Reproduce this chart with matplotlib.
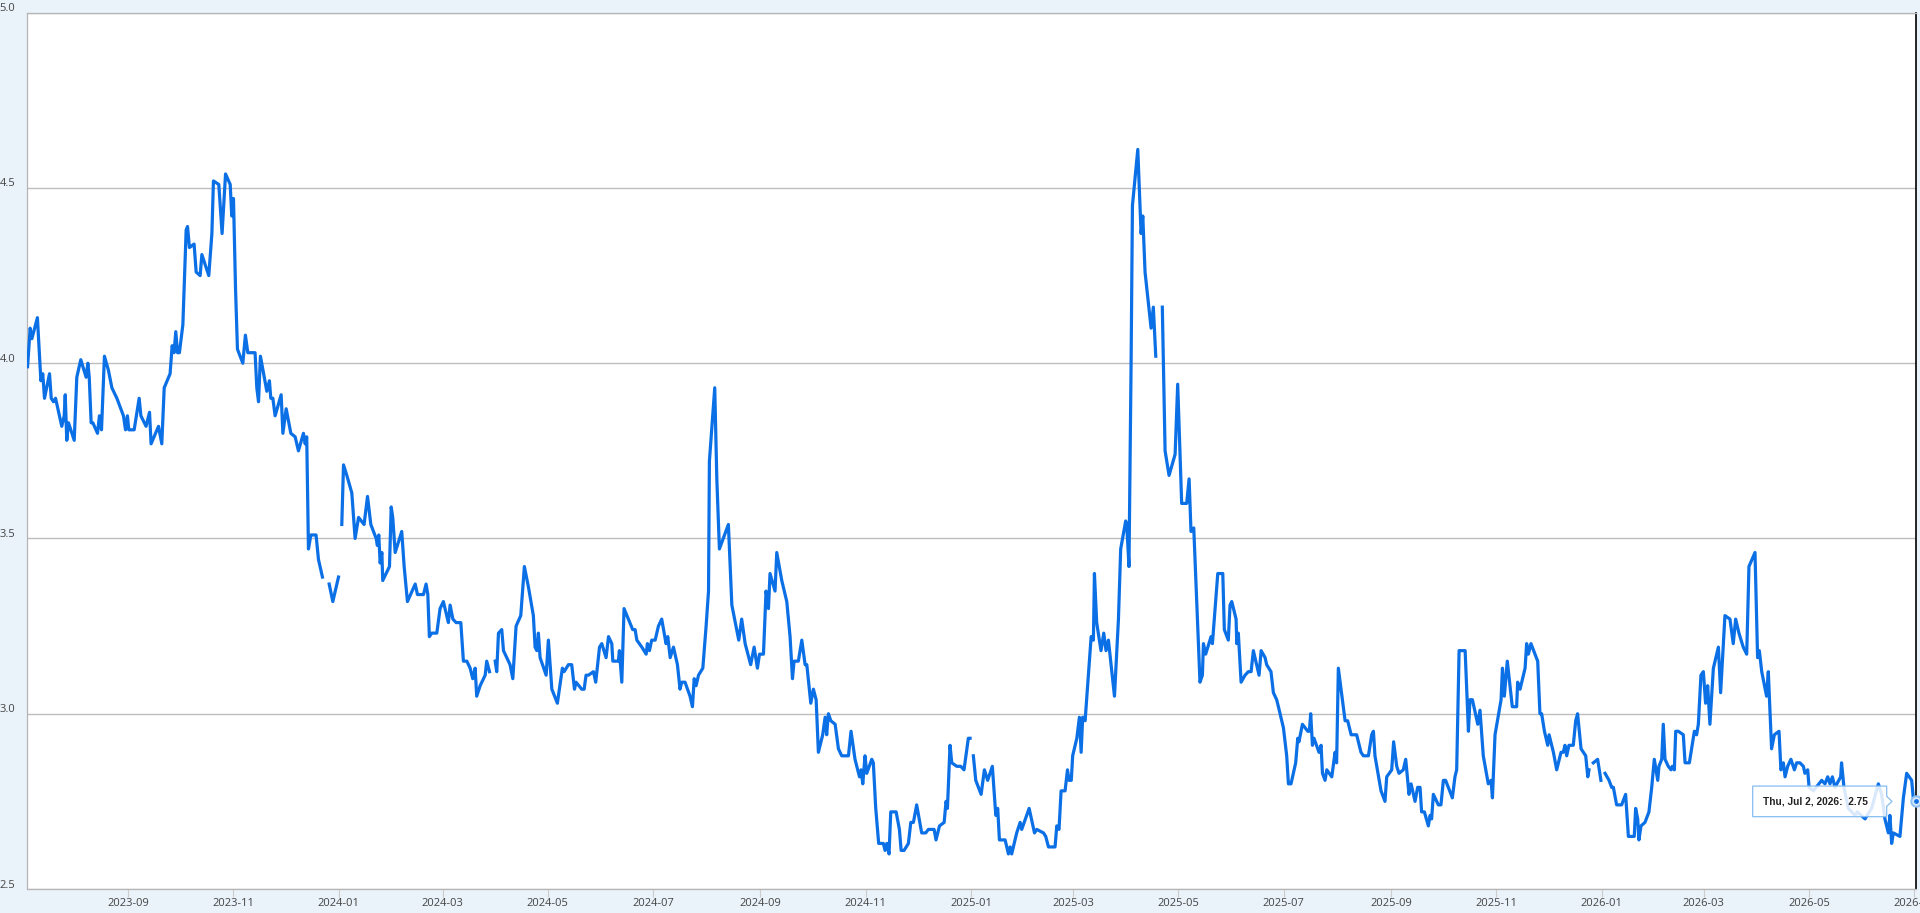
import numpy as np
import pandas as pd
import matplotlib
matplotlib.use("Agg")
import matplotlib.pyplot as plt
import matplotlib.dates as mdates
import matplotlib.transforms as mtransforms
from matplotlib.patches import Polygon

plt.rcParams['font.family'] = ['Open Sans', 'DejaVu Sans']

nan = np.nan
START = pd.Timestamp('2023-07-03')

# ---- data: (days since START, value); nan marks gaps in the series ----
days_2023h2 = [1.8, 3.3, 4.3, 7.5, 9.5, 10.6, 11.6, 14.5, 15.5, 16.8, 18.0, 21.6, 23.0, 23.6, 24.5, 25.5,
               28.8, 30.3, 32.6, 35.7, 36.7, 37.5, 38.6, 39.6, 42.3, 43.4, 44.6, 46.3, 48.6, 50.6, 53.5,
               57.3, 58.5, 59.6, 60.4, 63.5, 66.4, 67.4, 70.4, 72.4, 73.3, 77.6, 79.5, 80.9, 84.3, 85.5,
               86.6, 87.6, 88.6, 89.7, 91.7, 93.6, 94.4, 95.5, 98.2, 99.4, 101.7, 102.7, 106.7, 108.5,
               109.4, 112.5, 114.4, 116.4, 119.1, 120.0, 121.0, 122.2, 123.3, 126.4, 127.9, 129.3, 133.5,
               134.5, 135.5, 136.6, 140.3, 141.8, 142.6, 143.8, 145.1, 148.6, 149.6, 151.5, 154.2, 156.7,
               158.6, 161.5, 162.5, 163.4, 164.4, 165.8, 168.8, 170.2, 172.5, 174.5, 176.4, 178.5, 181.8,
               182.8]
vals_2023h2 = [3.99, 4.10, 4.07, 4.13, 3.95, 3.97, 3.90, 3.97, 3.90, 3.89, 3.90, 3.82, 3.85, 3.91, 3.78, 3.83,
               3.78, 3.96, 4.01, 3.96, 4.00, 3.96, 3.83, 3.83, 3.80, 3.85, 3.81, 4.02, 3.98, 3.93, 3.90,
               3.85, 3.81, 3.85, 3.81, 3.81, 3.90, 3.85, 3.82, 3.86, 3.77, 3.82, 3.77, 3.93, 3.97, 4.05,
               4.03, 4.09, 4.03, 4.03, 4.11, 4.38, 4.39, 4.33, 4.34, 4.26, 4.25, 4.31, 4.25, 4.37,
               4.52, 4.51, 4.37, 4.54, 4.51, 4.42, 4.47, 4.21, 4.04, 4.00, 4.08, 4.03, 4.03,
               3.93, 3.89, 4.02, 3.92, 3.95, 3.90, 3.90, 3.85, 3.91, 3.80, 3.87, 3.80, 3.79,
               3.75, 3.80, 3.77, 3.79, 3.47, 3.51, 3.51, 3.44, 3.39, nan, 3.37, 3.32, 3.39,
               nan]

days_2024h1 = [183.7, 184.7, 186.6, 189.5, 191.4, 193.4, 196.6, 198.6, 200.5, 203.6, 204.3, 205.1, 205.9,
               206.9, 207.4, 211.3, 212.3, 213.2, 214.6, 218.4, 219.8, 221.7, 226.2, 227.5, 231.0, 232.5,
               233.5, 234.4, 235.8, 238.7, 240.6, 242.5, 245.4, 246.4, 248.0, 249.9, 252.6, 254.1, 256.1,
               258.0, 259.5, 260.9, 261.8, 263.8, 266.7, 267.6, 269.2, 270.8, 272.5, 273.4, 274.4, 276.3,
               277.3, 281.1, 282.7, 284.6, 287.3, 289.4, 291.8, 294.6, 295.6, 296.6, 297.5, 298.5, 302.0,
               303.3, 305.3, 308.5, 311.4, 312.4, 314.9, 316.8, 318.4, 319.3, 322.6, 324.0, 325.1, 326.5,
               329.4, 330.7, 332.9, 334.2, 336.7, 338.1, 340.0, 340.6, 343.8, 344.4, 345.8, 347.1, 349.6,
               352.1, 353.5, 354.5, 357.4, 359.9, 360.6, 361.8, 363.1, 365.1]
vals_2024h1 = [3.54, 3.71, 3.68, 3.63, 3.50, 3.56, 3.54, 3.62, 3.54, 3.50, 3.48, 3.51, 3.43,
               3.46, 3.38, 3.42, 3.59, 3.56, 3.46, 3.52, 3.42, 3.32, 3.37, 3.34, 3.34, 3.37,
               3.34, 3.22, 3.23, 3.23, 3.30, 3.32, 3.26, 3.31, 3.27, 3.26, 3.26, 3.15, 3.15,
               3.13, 3.10, 3.13, 3.05, 3.08, 3.11, 3.15, 3.12, nan, 3.15, 3.12, 3.23, 3.24,
               3.18, 3.14, 3.10, 3.25, 3.28, 3.42, 3.36, 3.28, 3.19, 3.18, 3.23, 3.16, 3.11,
               3.21, 3.07, 3.03, 3.13, 3.12, 3.14, 3.14, 3.07, 3.09, 3.07, 3.07, 3.11, 3.11,
               3.12, 3.09, 3.19, 3.20, 3.16, 3.22, 3.20, 3.15, 3.15, 3.18, 3.09, 3.30, 3.27,
               3.24, 3.24, 3.21, 3.19, 3.17, 3.20, 3.18, 3.21, 3.21]

days_2024h2 = [367.0, 368.9, 371.4, 372.4, 373.8, 375.7, 378.0, 379.5, 380.5, 382.4, 385.3, 386.7, 387.7,
               388.8, 390.2, 392.7, 394.6, 396.0, 396.5, 399.6, 400.8, 402.3, 407.5, 409.5, 412.3, 413.5,
               415.2, 417.2, 420.4, 422.4, 424.3, 425.5, 427.8, 429.3, 430.7, 431.6, 434.5, 435.5, 438.4,
               441.3, 443.2, 444.6, 445.5, 448.0, 450.0, 451.9, 452.9, 455.2, 456.7, 458.3, 459.6, 462.1,
               463.5, 464.4, 465.4, 466.8, 469.3, 471.2, 473.1, 477.0, 478.5, 480.8, 483.4, 484.3, 485.3,
               486.6, 487.6, 490.5, 491.4, 492.8, 494.5, 497.2, 498.2, 499.2, 500.5, 501.5, 504.6, 506.5,
               507.5, 509.2, 511.7, 513.1, 514.6, 516.5, 519.4, 521.7, 523.3, 526.6, 527.7, 529.7, 532.4,
               533.5, 534.3, 535.8, 536.8, 539.7, 542.0, 543.9, 546.4, 547.4, 548.4]
vals_2024h2 = [3.25, 3.27, 3.20, 3.22, 3.16, 3.19, 3.14, 3.07, 3.09, 3.09, 3.05, 3.02, 3.10,
               3.08, 3.11, 3.13, 3.25, 3.35, 3.72, 3.93, 3.67, 3.47, 3.54, 3.31, 3.24, 3.21,
               3.27, 3.20, 3.14, 3.19, 3.13, 3.17, 3.17, 3.35, 3.30, 3.40, 3.35, 3.46, 3.38,
               3.32, 3.22, 3.10, 3.15, 3.15, 3.21, 3.14, 3.14, 3.03, 3.07, 3.04, 2.89, 2.94,
               2.99, 2.94, 3.00, 2.98, 2.97, 2.90, 2.88, 2.88, 2.95, 2.87, 2.82, 2.84, 2.80,
               2.88, 2.83, 2.87, 2.86, 2.73, 2.63, 2.63, 2.61, 2.63, 2.60, 2.72, 2.72, 2.67,
               2.61, 2.61, 2.63, 2.69, 2.69, 2.74, 2.66, 2.66, 2.67, 2.67, 2.64, 2.68, 2.69,
               2.75, 2.73, 2.91, 2.86, 2.85, 2.85, 2.84, 2.93, 2.93, nan]

days_2025h1 = [549.3, 550.7, 553.8, 555.7, 557.6, 560.3, 562.3, 563.4, 564.4, 567.7, 569.6, 570.6, 571.5,
               574.4, 576.4, 577.3, 581.6, 584.7, 586.0, 589.9, 591.2, 592.8, 596.6, 597.6, 598.9, 600.1,
               602.4, 603.8, 604.7, 606.0, 606.8, 609.2, 610.7, 611.7, 612.6, 614.0, 617.5, 618.8, 619.4,
               620.7, 623.2, 624.8, 626.1, 627.5, 631.0, 633.3, 634.6, 637.5, 638.1, 639.4, 640.6, 641.4,
               644.5, 646.4, 647.4, 648.7, 652.2, 653.5, 654.9, 656.8, 658.7, 660.3, 662.6, 666.1, 667.6,
               669.9, 672.8, 674.2, 675.3, 676.9, 680.5, 681.9, 682.5, 683.8, 686.9, 687.7, 690.8, 693.7,
               694.6, 696.9, 697.9, 698.9, 701.4, 701.8, 702.7, 704.3, 706.6, 708.5, 710.1, 711.4, 714.7,
               715.9, 718.2, 719.1, 721.6, 723.0, 724.9, 725.9, 728.8, 730.7]
vals_2025h1 = [2.88, 2.81, 2.77, 2.84, 2.81, 2.85, 2.71, 2.73, 2.64, 2.64, 2.60, 2.62, 2.60,
               2.66, 2.69, 2.67, 2.73, 2.66, 2.67, 2.66, 2.65, 2.62, 2.62, 2.68, 2.67, 2.78,
               2.78, 2.84, 2.81, 2.81, 2.88, 2.93, 2.99, 2.89, 2.99, 2.98, 3.22, 3.21, 3.40,
               3.26, 3.18, 3.23, 3.18, 3.21, 3.05, 3.27, 3.47, 3.55, 3.54, 3.42, 3.99, 4.45,
               4.61, 4.37, 4.42, 4.26, 4.10, 4.16, 4.02, nan, 4.16, 3.75, 3.68, 3.74, 3.94,
               3.60, 3.60, 3.67, 3.52, 3.53, 3.09, 3.11, 3.20, 3.17, 3.22, 3.20, 3.40, 3.40,
               3.24, 3.21, 3.31, 3.32, 3.27, 3.20, 3.23, 3.09, 3.11, 3.12, 3.12, 3.18, 3.11,
               3.18, 3.16, 3.14, 3.12, 3.06, 3.04, 3.02, 2.96, 2.88]

days_2025h2 = [731.7, 733.2, 735.9, 737.1, 737.8, 739.8, 742.9, 743.8, 744.6, 745.6, 746.5, 749.4, 750.6,
               751.4, 752.9, 753.9, 756.8, 758.7, 759.6, 760.6, 764.5, 766.0, 768.0, 771.2, 773.7, 775.1,
               778.0, 779.9, 780.9, 781.8, 785.3, 787.6, 788.6, 791.5, 792.6, 794.4, 795.7, 798.2, 799.6,
               801.5, 802.7, 805.0, 806.5, 807.9, 808.8, 810.4, 812.7, 813.7, 814.6, 815.6, 818.5, 820.0,
               821.4, 822.7, 826.6, 828.1, 829.1, 830.5, 834.0, 835.9, 836.8, 838.2, 841.3, 842.6, 844.5,
               847.4, 849.0, 849.8, 851.3, 854.8, 855.6, 856.7, 858.4, 861.3, 863.8, 864.4, 865.8, 868.7,
               869.6, 870.6, 872.1, 876.0, 877.3, 878.3, 879.9, 881.8, 882.6, 885.1, 887.0, 889.5, 890.8,
               891.8, 892.8, 894.1, 896.6, 898.0, 899.1, 901.1, 903.8, 905.0, 905.7, 907.0, 908.2, 910.7,
               912.6, 913.8]
vals_2025h2 = [2.80, 2.80, 2.86, 2.93, 2.92, 2.97, 2.95, 2.95, 3.00, 2.91, 2.93, 2.89, 2.91,
               2.83, 2.81, 2.84, 2.82, 2.89, 2.86, 3.13, 2.98, 2.98, 2.94, 2.94, 2.89, 2.88,
               2.88, 2.94, 2.95, 2.88, 2.78, 2.75, 2.82, 2.84, 2.92, 2.85, 2.83, 2.84, 2.87,
               2.77, 2.80, 2.75, 2.79, 2.79, 2.72, 2.72, 2.68, 2.71, 2.70, 2.77, 2.74, 2.74,
               2.81, 2.81, 2.76, 2.82, 2.84, 3.18, 3.18, 2.95, 3.04, 3.04, 2.97, 3.01, 2.88,
               2.80, 2.81, 2.76, 2.94, 3.04, 3.13, 3.05, 3.15, 3.02, 3.02, 3.09, 3.07, 3.13,
               3.20, 3.17, 3.20, 3.15, 3.00, 3.00, 2.95, 2.91, 2.94, 2.89, 2.84, 2.89, 2.89,
               2.91, 2.88, 2.91, 2.91, 2.98, 3.00, 2.90, 2.88, 2.82, 2.84, nan, 2.86, 2.87,
               2.81, nan]

days_2026h1 = [915.0, 917.3, 918.8, 919.8, 921.7, 924.6, 926.9, 928.5, 931.9, 932.7, 933.9, 934.6, 935.8,
               938.1, 940.4, 942.0, 943.5, 945.5, 946.2, 947.8, 948.7, 949.7, 951.6, 953.2, 953.9, 955.1,
               955.9, 957.4, 960.3, 961.3, 963.8, 965.1, 966.7, 968.0, 969.0, 970.5, 971.9, 973.2, 974.4,
               975.7, 977.7, 980.6, 981.9, 984.4, 987.3, 989.2, 990.6, 992.5, 995.0, 997.0, 998.3, 1001.8,
               1003.3, 1004.3, 1005.7, 1008.5, 1009.5, 1011.4, 1013.0, 1015.7, 1016.8, 1018.2, 1019.2,
               1020.7, 1022.6, 1024.6, 1025.9, 1027.8, 1029.8, 1030.7, 1032.3, 1033.1, 1035.6, 1040.4,
               1042.3, 1043.9, 1045.2, 1046.6, 1048.1, 1051.4, 1051.9, 1053.3, 1055.8, 1059.7, 1061.0,
               1065.5, 1069.3, 1073.2, 1075.1, 1077.0, 1079.0, 1079.9, 1080.9, 1081.9, 1085.7, 1087.7,
               1089.6, 1092.5, 1093.4, 1095.0]
vals_2026h1 = [2.83, 2.81, 2.79, 2.79, 2.74, 2.74, 2.77, 2.65, 2.65, 2.73, 2.70, 2.64, 2.68,
               2.69, 2.72, 2.79, 2.87, 2.81, 2.85, 2.87, 2.97, 2.87, 2.85, 2.84, 2.85, 2.84,
               2.95, 2.95, 2.94, 2.86, 2.86, 2.90, 2.95, 2.94, 2.97, 3.11, 3.12, 3.03, 3.08,
               2.97, 3.13, 3.19, 3.06, 3.28, 3.27, 3.20, 3.27, 3.23, 3.19, 3.17, 3.42, 3.46,
               3.16, 3.18, 3.12, 3.05, 3.12, 2.90, 2.94, 2.95, 2.84, 2.86, 2.82,
               2.85, 2.87, 2.84, 2.86, 2.86, 2.85, 2.83, 2.84, 2.79, 2.78, 2.81,
               2.80, 2.82, 2.80, 2.82, 2.79, 2.82, 2.86, 2.79, 2.73, 2.71, 2.72,
               2.70, 2.73, 2.80, 2.77, 2.70, 2.66, 2.71, 2.63, 2.66, 2.65, 2.76,
               2.83, 2.81, 2.76, 2.75]

y_ticks = [2.5, 3.0, 3.5, 4.0, 4.5, 5.0]
x_tick_dates = pd.date_range('2023-09-01', '2026-07-01', freq='2MS')

days = np.concatenate([days_2023h2, days_2024h1, days_2024h2, days_2025h1, days_2025h2, days_2026h1])
vals = np.concatenate([vals_2023h2, vals_2024h1, vals_2024h2, vals_2025h1, vals_2025h2, vals_2026h1])
dates = START + pd.to_timedelta(days, unit='D')

# ---- figure ----
W, H = 1920, 913
BG = '#EAF2FA'
LINE = '#0B6FE6'
fig = plt.figure(figsize=(W / 100, H / 100), dpi=100, facecolor=BG)
L, R, T, B = 26.5, 1916.0, 12.7, 889.0
ax = fig.add_axes([L / W, 1 - B / H, (R - L) / W, (B - T) / H])
ax.set_facecolor('white')

ax.plot(dates, vals, color=LINE, lw=2.3, zorder=3)

ax.set_xlim(START + pd.Timedelta(days=1.18), START + pd.Timedelta(days=1095))
ax.set_ylim(2.5, 5.0)

ax.set_yticks(y_ticks)
ax.yaxis.grid(True, color='#BDBDBD', lw=1.0, zorder=1)
ax.tick_params(axis='y', length=0, labelleft=False)
ylab_trans = mtransforms.offset_copy(
    mtransforms.blended_transform_factory(fig.transFigure, ax.transData),
    fig=fig, x=0, y=1.5, units='dots')
for v in y_ticks:
    ax.text(15.5 / W, v, f"{v:.1f}", transform=ylab_trans, ha='right', va='baseline',
            fontsize=8, color='#444444', clip_on=False)

ax.set_xticks(x_tick_dates)
ax.xaxis.set_major_formatter(mdates.DateFormatter('%Y-%m'))
ax.tick_params(axis='x', length=5.8, width=0.8, color='#CCCCCC', pad=0.8,
               labelsize=8, labelcolor='#444444')

for side in ('left', 'top', 'bottom'):
    ax.spines[side].set_color('#B5B5B5')
    ax.spines[side].set_linewidth(0.9)
ax.spines['right'].set_color('black')
ax.spines['right'].set_linewidth(1.2)

# ---- hover marker and tooltip at the last point ----
last_d, last_v = dates[-1], vals[-1]
ax.plot([last_d], [last_v], 'o', ms=7.5, mfc='#D5E7FB', mec='#8FC2F2', mew=1.4,
        zorder=5, clip_on=False)
ax.plot([last_d], [last_v], 'o', ms=2.4, color=LINE, zorder=6, clip_on=False)

px, py = ax.transData.transform((mdates.date2num(last_d), last_v))
tip_x = px - 24
bx1 = tip_x - 5.3
bx0 = tip_x - 139.3
hh = 15.3
poly = Polygon([(bx0, py - hh), (bx1, py - hh), (bx1, py - 5), (tip_x, py), (bx1, py + 5),
                (bx1, py + hh), (bx0, py + hh)], closed=True,
               transform=mtransforms.IdentityTransform(),
               facecolor=(1, 1, 1, 0.85), edgecolor='#86BDF2', lw=0.9, zorder=7)
fig.add_artist(poly)
tip_text = f"{last_d:%a}, {last_d:%b} {last_d.day}, {last_d.year}:  {last_v:.2f}"
fig.text((bx0 + 10) / W, py / H, tip_text, ha='left', va='center', fontsize=7.3,
         fontweight='bold', color='#222222', family=['Liberation Sans', 'DejaVu Sans'], zorder=8)

fig.savefig('out.png', dpi=100, facecolor=fig.get_facecolor())
